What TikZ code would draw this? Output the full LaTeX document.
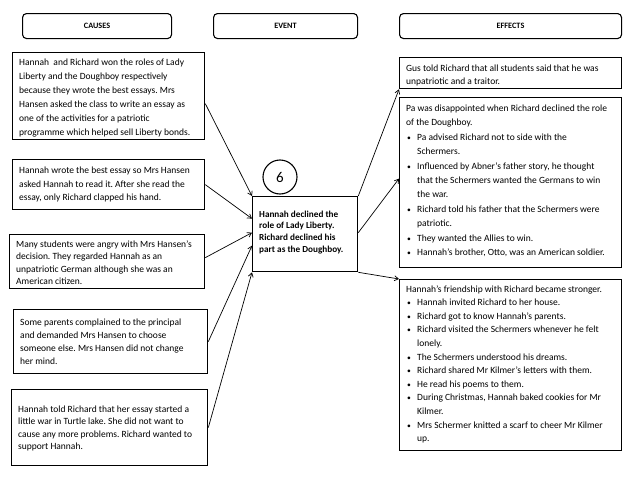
\documentclass[tikz,border=0pt]{standalone}
\usepackage{fontspec}
\setmainfont{Carlito}
\usetikzlibrary{arrows.meta}
\frenchspacing
\newcommand{\hd}[1]{\multicolumn{2}{@{}l@{}}{#1}}
\newcommand{\bu}{\hspace{1pt}\scalebox{0.8}{\textbullet}}
\tikzset{
  head/.style={draw, line width=1.1pt, rounded corners=4pt, anchor=north west, inner sep=0pt,
    font=\fontsize{8.2}{9}\selectfont\bfseries},
  box/.style={draw, line width=1.3pt, anchor=north west, inner sep=0pt},
  lbl/.style={anchor=west, inner sep=0pt, align=left, font=\fontsize{9.5}{13.2}\selectfont},
  elbl/.style={anchor=west, inner sep=0pt, font=\fontsize{9.5}{13.6}\selectfont},
  arr/.style={-{Straight Barb[length=4pt,width=5pt]}, line width=0.7pt},
}
\begin{document}
\begin{tikzpicture}[x=1pt,y=-1pt]
\useasboundingbox (0,0) rectangle (638,479);
% headers
\node[head, minimum width=149pt, minimum height=25pt] (hc) at (22,13) {CAUSES};
\node[head, minimum width=144pt, minimum height=25pt] (he) at (213,13) {EVENT};
\node[head, minimum width=222pt, minimum height=25pt] (hf) at (399,13) {EFFECTS};
% causes
\node[box, minimum width=192pt, minimum height=87pt] (c1) at (12,52) {};
\node[lbl, font=\fontsize{9.5}{14}\selectfont] (t1) at ([xshift=7pt,yshift=-2pt]c1.west) {Hannah\ \ and Richard won the roles of Lady\\Liberty and the Doughboy respectively\\because they wrote the best essays. Mrs\\Hansen asked the class to write an essay as\\one of the activities for a patriotic\\programme which helped sell Liberty bonds.};
\node[box, minimum width=192pt, minimum height=50pt] (c2) at (12,159) {};
\node[lbl] (t2) at ([xshift=7pt]c2.west) {Hannah wrote the best essay so Mrs Hansen\\asked Hannah to read it. After she read the\\essay, only Richard clapped his hand.};
\node[box, minimum width=195pt, minimum height=54pt] (c3) at (9,234) {};
\node[lbl, font=\fontsize{9.5}{12.6}\selectfont] (t3) at ([xshift=7pt,yshift=-1pt]c3.west) {Many students were angry with Mrs Hansen’s\\decision. They regarded Hannah as an\\unpatriotic German although she was an\\American citizen.};
\node[box, minimum width=194pt, minimum height=64pt] (c4) at (13,309) {};
\node[lbl] (t4) at ([xshift=7pt]c4.west) {Some parents complained to the principal\\and demanded Mrs Hansen to choose\\someone else. Mrs Hansen did not change\\her mind.};
\node[box, minimum width=196pt, minimum height=76pt] (c5) at (11,389) {};
\node[lbl, font=\fontsize{9.5}{12.4}\selectfont] (t5) at ([xshift=7pt,yshift=-1pt]c5.west) {Hannah told Richard that her essay started a\\little war in Turtle lake. She did not want to\\cause any more problems. Richard wanted to\\support Hannah.};
% event
\node[box, minimum width=105pt, minimum height=75pt] (ev) at (252,196) {};
\node[anchor=west, inner sep=0pt, align=left, font=\fontsize{9.2}{11.6}\selectfont\bfseries] (tev) at ([xshift=7pt,yshift=2pt]ev.west)
  {Hannah declined the\\role of Lady Liberty.\\Richard declined his\\part as the Doughboy.};
\node[draw, circle, line width=1.1pt, minimum size=34pt, inner sep=0pt, font=\fontsize{15}{17}\selectfont] (n6) at (280,177) {6};
% effects
\node[box, minimum width=222pt, minimum height=31pt] (e1) at (399,57) {};
\node[lbl] (f1) at ([xshift=7pt,yshift=-2pt]e1.west) {Gus told Richard that all students said that he was\\unpatriotic and a traitor.};
\node[box, minimum width=222pt, minimum height=170pt] (e2) at (399,97) {};
\node[elbl, font=\fontsize{9.5}{14.4}\selectfont] (f2) at ([xshift=7pt,yshift=2pt]e2.west) {\begin{tabular}{@{}p{11pt}@{}l@{}}
\hd{Pa was disappointed when Richard declined the role}\\
\hd{of the Doughboy.}\\
\bu & Pa advised Richard not to side with the\\
    & Schermers.\\
\bu & Influenced by Abner’s father story, he thought\\
    & that the Schermers wanted the Germans to win\\
    & the war.\\
\bu & Richard told his father that the Schermers were\\
    & patriotic.\\
\bu & They wanted the Allies to win.\\
\bu & Hannah’s brother, Otto, was an American soldier.
\end{tabular}};
\node[box, minimum width=222pt, minimum height=171pt] (e3) at (399,279) {};
\node[elbl] (f3) at ([xshift=7pt,yshift=1pt]e3.west) {\begin{tabular}{@{}p{11pt}@{}l@{}}
\hd{Hannah’s friendship with Richard became stronger.}\\
\bu & Hannah invited Richard to her house.\\
\bu & Richard got to know Hannah’s parents.\\
\bu & Richard visited the Schermers whenever he felt\\
    & lonely.\\
\bu & The Schermers understood his dreams.\\
\bu & Richard shared Mr Kilmer’s letters with them.\\
\bu & He read his poems to them.\\
\bu & During Christmas, Hannah baked cookies for Mr\\
    & Kilmer.\\
\bu & Mrs Schermer knitted a scarf to cheer Mr Kilmer\\
    & up.
\end{tabular}};
% arrows causes -> event
\draw[arr] ([yshift=-7.5pt]c1.east) -- (ev.north west);
\draw[arr] (c2.east) -- ([yshift=15.5pt]ev.west);
\draw[arr] ([yshift=4pt]c3.east) -- ([yshift=1.5pt]ev.west);
\draw[arr] (c4.east) -- ([yshift=-11.5pt]ev.west);
\draw[arr] (c5.east) -- (ev.south west);
% arrows event -> effects
\draw[arr] (ev.north east) -- (e1.south west);
\draw[arr] ([yshift=1.5pt]ev.east) -- ([yshift=4pt]e2.west);
\draw[arr] (ev.south east) -- (e3.north west);
\end{tikzpicture}
\end{document}
